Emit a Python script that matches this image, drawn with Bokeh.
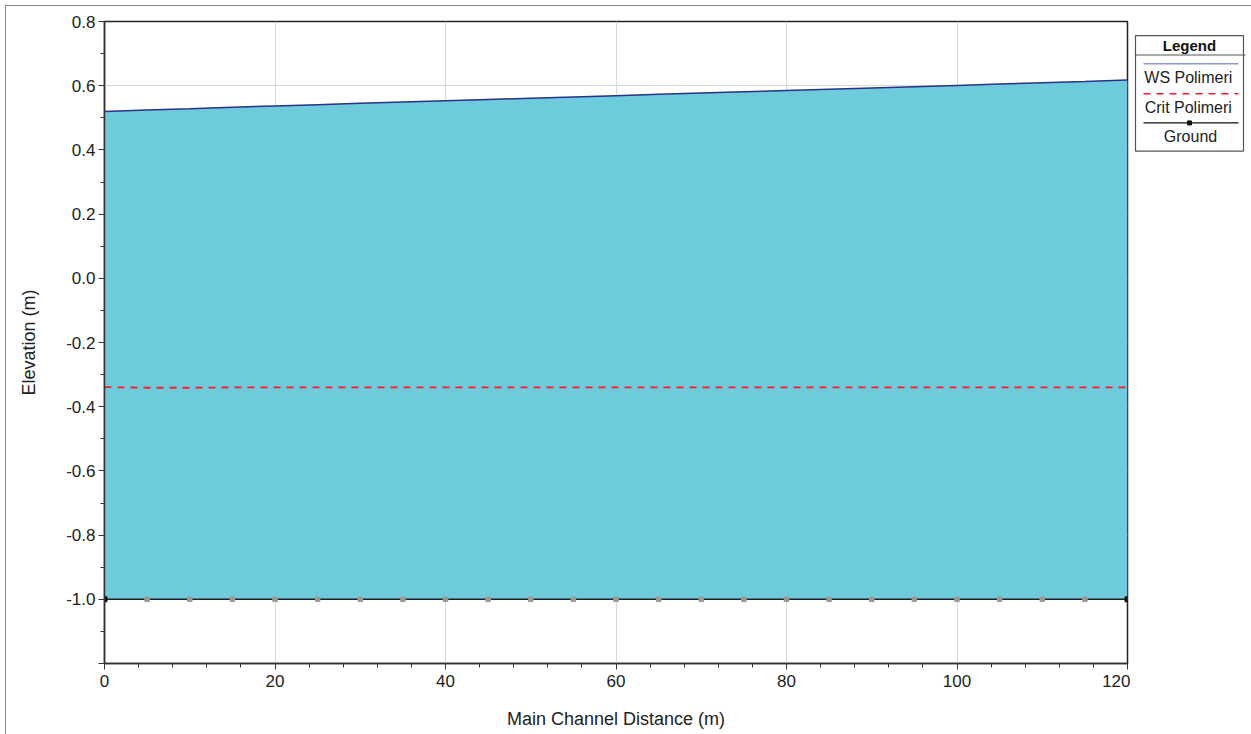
from bokeh.plotting import figure
from bokeh.models import FixedTicker, Range1d, ColumnDataSource
from bokeh.layouts import row
from bokeh.core.properties import value
from bokeh.embed import file_html
from bokeh.resources import INLINE

# ---- data ----
station = [0, 5, 10, 15, 20, 25, 30, 35, 40, 45, 50, 55, 60, 65, 70, 75, 80, 85, 90, 95, 100, 105, 110, 115, 120]
ws_polimeri = [0.520, 0.524, 0.528, 0.533, 0.537, 0.541, 0.545, 0.549, 0.553, 0.557, 0.561, 0.565, 0.569,
               0.573, 0.577, 0.581, 0.585, 0.589, 0.593, 0.597, 0.601, 0.605, 0.609, 0.613, 0.618]
crit_polimeri = [-0.339, -0.341, -0.341, -0.340, -0.340, -0.340, -0.340, -0.340, -0.340, -0.340, -0.340, -0.340, -0.340,
                 -0.340, -0.340, -0.340, -0.340, -0.340, -0.340, -0.340, -0.340, -0.340, -0.340, -0.340, -0.340]
ground = [-1.0] * 25
y_major = [-1.2, -1.0, -0.8, -0.6, -0.4, -0.2, 0.0, 0.2, 0.4, 0.6, 0.8]
y_labels = ["", "-1.0", "-0.8", "-0.6", "-0.4", "-0.2", "0.0", "0.2", "0.4", "0.6", "0.8"]
y_minor = [-1.1, -0.9, -0.7, -0.5, -0.3, -0.1, 0.1, 0.3, 0.5, 0.7]
x_major = [0, 20, 40, 60, 80, 100, 120]
x_minor = [4, 8, 12, 16, 24, 28, 32, 36, 44, 48, 52, 56, 64, 68, 72, 76, 84, 88, 92, 96, 104, 108, 112, 116]
legend_title = "Legend"
legend_names = ["WS  Polimeri", "Crit  Polimeri", "Ground"]

FONT = "Liberation Sans"
src = ColumnDataSource(dict(x=station, ws=ws_polimeri, crit=crit_polimeri, g=ground))

p = figure(width=1124, height=728, output_backend="svg", toolbar_location=None,
           x_range=Range1d(0, 120), y_range=Range1d(-1.2, 0.8),
           min_border_left=98, min_border_right=3, min_border_top=15, min_border_bottom=71)
p.background_fill_color = "white"
p.border_fill_color = "white"
p.outline_line_color = "#222222"
p.outline_line_width = 1.5

# water fill
p.varea(x="x", y1="g", y2="ws", source=src, fill_color="#6ECBDC")
p.line(x="x", y="ws", source=src, line_color="#27338C", line_width=1.5)
p.line(x="x", y="crit", source=src, line_color="#FF1A2A", line_width=1.8, line_dash="7 6")
p.line(x="x", y="g", source=src, line_color="#222222", line_width=1.5)
p.scatter(x=station[1:-1], y=ground[1:-1], marker="square", size=4.5, fill_color="#9A9A9A", line_color="#9A9A9A")
p.scatter(x=[station[0], station[-1]], y=[ground[0], ground[-1]], marker="square", size=5, fill_color="#111111", line_color="#111111")

# axes
p.xaxis.ticker = FixedTicker(ticks=x_major, minor_ticks=x_minor)
p.yaxis.ticker = FixedTicker(ticks=y_major, minor_ticks=y_minor)
p.yaxis.major_label_overrides = {t: l for t, l in zip(y_major, y_labels)}
for ax in (p.xaxis[0], p.yaxis[0]):
    ax.axis_line_color = "#333333"
    ax.axis_line_width = 1.5
    ax.major_tick_line_color = "#333333"
    ax.minor_tick_line_color = "#333333"
    ax.major_tick_in = 0
    ax.major_tick_out = 6
    ax.minor_tick_in = 0
    ax.minor_tick_out = 4
    ax.major_label_text_font = FONT
    ax.major_label_text_font_size = "17px"
    ax.major_label_text_color = "#222222"
    ax.axis_label_text_font = FONT
    ax.axis_label_text_font_size = "18px"
    ax.axis_label_text_font_style = "normal"
    ax.axis_label_text_color = "#222222"
p.xaxis.axis_label = "Main Channel Distance (m)"
p.yaxis.axis_label = "Elevation (m)"
p.xaxis.major_label_standoff = 5
p.xaxis.axis_label_standoff = 19
p.yaxis.major_label_standoff = 3
p.yaxis.axis_label_standoff = 24

p.xgrid.ticker = FixedTicker(ticks=x_major)
p.ygrid.ticker = FixedTicker(ticks=y_major)
p.grid.grid_line_color = "#D9D9D9"
p.grid.grid_line_width = 1

# legend panel (screen-like coordinates)
leg = figure(width=121, height=728, output_backend="svg", toolbar_location=None,
             x_range=Range1d(0, 121), y_range=Range1d(728, 0),
             min_border=0, min_border_left=0, min_border_right=0, min_border_top=0, min_border_bottom=0)
leg.axis.visible = False
leg.grid.visible = False
leg.outline_line_color = None
leg.border_fill_color = "white"
leg.background_fill_color = "white"
leg.quad(left=[5], right=[113], top=[16], bottom=[147], fill_color="white", line_color="#555555", line_width=1.2)
leg.segment(x0=[5], y0=[38], x1=[115], y1=[38], line_color="#555555", line_width=1.2)
leg.text(x=[59], y=[27], text=[legend_title], text_font=value(FONT), text_font_size="15px",
         text_font_style="bold", text_align="center", text_baseline="middle", text_color="#111111")
leg.segment(x0=[13], y0=[48], x1=[108], y1=[48], line_color="#8B9BD0", line_width=1.5)
leg.segment(x0=[13], y0=[82], x1=[108], y1=[82], line_color="#FF1A2A", line_width=1.4, line_dash="7 6")
leg.segment(x0=[13], y0=[115], x1=[108], y1=[115], line_color="#111111", line_width=1.2)
leg.scatter(x=[59], y=[115], marker="square", size=4, fill_color="#111111", line_color="#111111")
leg.text(x=[60, 60, 60], y=[64, 97, 130], text=legend_names, text_font=value(FONT), text_font_size="16px",
         text_align="center", text_baseline="middle", text_color="#222222")

layout = row(p, leg, spacing=0,
             styles={"border-top": "1px solid #8A8A8A", "border-left": "1px solid #8A8A8A",
                     "margin-top": "5px", "margin-left": "5px"})

open("out.html", "w").write(file_html(layout, INLINE))
